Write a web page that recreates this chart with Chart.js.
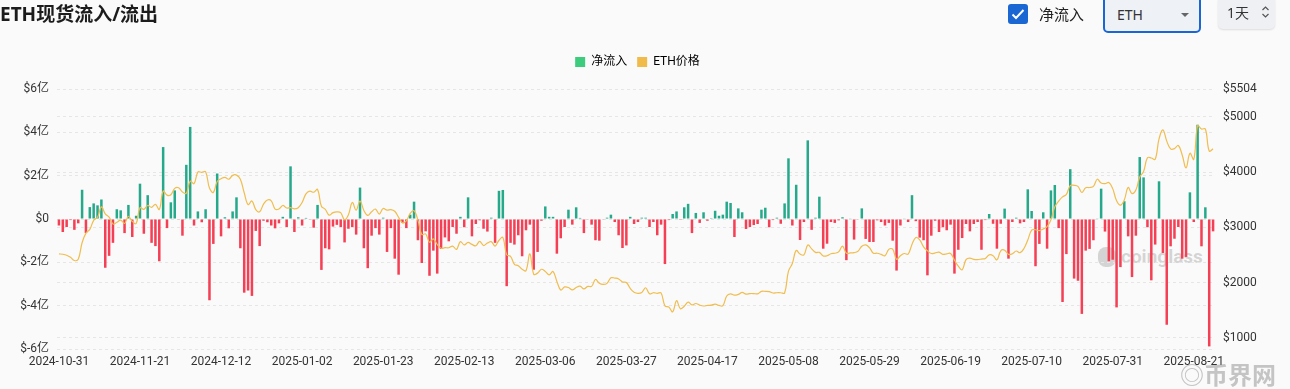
<!DOCTYPE html>
<html>
<head>
<meta charset="utf-8">
<script src="https://cdn.jsdelivr.net/npm/chart.js@4.4.1/dist/chart.umd.min.js"></script>
<style>
    html, body { margin: 0; padding: 0; background: #fafafa; }
    body { width: 1290px; height: 389px; position: relative; overflow: hidden; font-family: "Noto Sans", "Noto Sans CJK SC", sans-serif; }
    .title { position: absolute; left: 0; top: 1px; font-size: 19px; font-weight: 700; color: #1c1c1c; line-height: 26px; z-index: 3; }
    .chk { position: absolute; left: 1008px; top: 4px; width: 20px; height: 20px; border-radius: 3px; background: #1a66d2; z-index: 3; }
    .chk-label { position: absolute; left: 1039px; top: 2px; font-size: 15px; color: #222; line-height: 24px; z-index: 3; }
    .select { position: absolute; left: 1103px; top: -6px; width: 94px; height: 35px; border: 2px solid #1a66d2; border-radius: 5px; background: #eef1f6; z-index: 3; }
    .select span { position: absolute; left: 12px; top: 8px; font-size: 14px; color: #333; line-height: 22px; }
    .select i { position: absolute; left: 76px; top: 17px; width: 0; height: 0; border-left: 4px solid transparent; border-right: 4px solid transparent; border-top: 4px solid #666; }
    .period { position: absolute; left: 1218px; top: -4px; width: 57px; height: 33px; border-radius: 5px; background: #eef0f3; box-shadow: 0 1px 2px rgba(0,0,0,0.12); z-index: 3; }
    .period span { position: absolute; left: 9px; top: 6px; font-size: 14px; color: #333; line-height: 22px; }
    .period svg { position: absolute; left: 43px; top: 9px; }
    .wm { position: absolute; left: 1098px; top: 245px; color: rgba(140,140,140,0.35); font: 700 19px Roboto, sans-serif; z-index: 0; }
    .wm b { display: inline-block; width: 18px; height: 20px; border-radius: 8px; background: rgba(140,140,140,0.35); vertical-align: -4px; margin-right: 5px; }
    .wm2 { position: absolute; left: 1180px; top: 359px; color: rgba(130,130,130,0.45); font: 700 24px "Noto Sans CJK SC", sans-serif; line-height: 30px; z-index: 3; }
    canvas { position: absolute; left: 0; top: 0; z-index: 1; }
</style>
</head>
<body>
<div class="title">ETH现货流入/流出</div>
<div class="chk"><svg width="20" height="20" viewBox="0 0 20 20"><path d="M4.5 10.5l3.5 3.5 7.5-8" fill="none" stroke="#fff" stroke-width="2"/></svg></div>
<div class="chk-label">净流入</div>
<div class="select"><span>ETH</span><i></i></div>
<div class="period"><span>1天</span><svg width="9" height="14" viewBox="0 0 9 14"><path d="M1.5 5l3-3 3 3M1.5 9l3 3 3-3" fill="none" stroke="#555" stroke-width="1.2"/></svg></div>
<div class="wm"><b></b>coinglass</div>
<div class="wm2">◎币界网</div>
<canvas id="flowChart" width="1290" height="389"></canvas>
<script>
// 每日净流入 (亿美元), 2024-10-31 起
const netFlow = [
    -0.3, -0.6, -0.37, -0.05, -0.5, -0.2, 1.35, -0.65, 0.55, 0.72,
    0.63, 0.9, -2.25, -1.7, -1.1, 0.45, 0.4, -0.65, 0.65, -0.83,
    0.15, 1.63, -0.68, 1.1, -1.1, -1.25, -1.95, 3.32, -0.42, 0.77,
    1.32, -0.03, -0.77, 2.5, 4.25, -0.3, 0.35, -0.15, 0.45, -3.75,
    -1.15, 2.1, -0.8, 0.08, -0.43, 0.35, 1.0, -1.35, -3.4, -3.3,
    -3.55, -0.55, -1.25, -0.08, -0.15, -0.3, -0.43, -0.2, 0.1, -0.37,
    2.43, -0.6, 0.08, -0.3, 0.05, -0.03, -0.4, 0.65, -2.35, -1.35,
    -1.4, -0.35, -0.27, -0.37, -1.08, -0.45, -0.37, -0.72, 1.45, -1.35,
    -2.27, -0.77, -0.42, -0.72, 0.06, -1.52, -0.42, -1.83, -2.57, -0.18,
    -0.42, 0.2, 0.8, -0.98, -2.03, -0.57, -2.62, -1.46, -2.52, -1.38,
    -0.85, -1.03, -0.37, -0.68, 0.1, -0.38, 1.0, -0.8, -0.23, -0.06,
    -0.45, -0.58, 0.06, -1.1, 1.3, 1.34, -3.1, -1.1, -1.18, -0.75,
    -1.72, -0.52, -0.26, -2.34, -1.52, -0.08, 0.58, 0.1, 0.1, -1.6,
    -0.89, -0.37, 0.43, -0.26, 0.54, 0.05, -0.65, -0.03, -0.26, -0.98,
    -1.0, -0.03, 0.06, 0.2, -0.14, -0.75, -1.34, -1.22, 0.1, -0.23,
    -0.14, 0.06, 0.06, -0.37, -0.14, -0.75, -0.26, -2.08, -0.05, 0.23,
    0.35, -0.04, 0.54, 0.7, -0.65, 0.28, -0.18, 0.31, -0.08, 0.04,
    0.38, 0.15, 0.2, 0.8, 0.74, -0.83, 0.49, 0.31, -0.46, -0.37,
    -0.28, -0.23, 0.43, 0.52, -0.38, -0.05, 0.06, -0.22, 0.72, 2.8,
    -0.3, 1.58, -0.97, -0.14, 3.63, -0.5, 0.06, 1.03, -1.37, -1.14,
    -0.14, -0.18, -0.06, 0.08, -1.9, 0.03, -0.95, -0.03, 0.49, -0.92,
    -1.06, -1.06, -0.06, -0.14, -0.3, -0.18, -1.0, -2.38, -0.3, 0.03,
    -0.14, 1.1, -0.1, -0.86, -0.98, -2.6, -0.77, -0.08, -0.6, -0.38,
    -0.52, -0.26, -2.52, -1.42, -0.88, -0.23, -0.57, -0.23, -0.14, -1.42,
    -0.05, 0.23, -0.22, -1.37, -0.22, 0.48, -1.83, -0.14, 0.06, -0.2,
    -0.14, 1.37, 0.37, -2.18, -1.15, 0.31, -1.37, 1.32, 1.57, -0.42,
    -3.83, -1.62, 2.3, -2.75, -2.85, -4.38, -1.46, -1.38, -0.98, 0.03,
    1.4, -0.58, -1.95, -1.88, -4.08, -2.22, 0.82, -0.8, -2.68, -0.77,
    2.86, 1.92, -0.38, -2.83, -1.18, 1.74, -1.57, -4.88, -1.26, -0.91,
    -0.37, -1.83, -1.75, 1.23, -0.14, 4.35, -1.26, 0.54, -5.88, -0.57
];

// ETH 价格 (美元)
const ethPrice = [
    2518,
    2512, 2494, 2456, 2398, 2420, 2720, 2895, 2962, 3126, 3182,
    3370, 3244, 3185, 3058, 3090, 3130, 3070, 3200, 3105, 3070,
    3355, 3325, 3395, 3360, 3415, 3323, 3655, 3583, 3590, 3705,
    3715, 3640, 3615, 3835, 3790, 4000, 3995, 4005, 3710, 3630,
    3830, 3880, 3905, 3870, 3940, 3945, 3870, 3625, 3410, 3475,
    3320, 3280, 3420, 3495, 3480, 3330, 3330, 3395, 3350, 3355, 3335,
    3355, 3450, 3605, 3655, 3635, 3685, 3380, 3325, 3220, 3265,
    3280, 3265, 3135, 3225, 3450, 3310, 3475, 3305, 3215, 3280,
    3330, 3240, 3340, 3310, 3320, 3290, 3180, 3080, 3115, 3250, 3300,
    3130, 2870, 2880, 2730, 2790, 2690, 2620, 2630, 2630, 2660,
    2600, 2740, 2680, 2725, 2690, 2665, 2745, 2670, 2715, 2740,
    2660, 2765, 2815, 2500, 2475, 2330, 2305, 2240,
    2215, 2520, 2150, 2170, 2240, 2200, 2140, 2200, 2020, 1865,
    1920, 1910, 1865, 1910, 1935, 1885, 1930, 1930, 2055, 1985,
    1965, 1985, 2085, 2080, 2065, 2010, 2000, 1895, 1825, 1805, 1820,
    1905, 1795, 1815, 1805, 1810, 1575, 1555, 1470, 1670, 1525,
    1570, 1645, 1595, 1620, 1590, 1575, 1585, 1590, 1610, 1585,
    1580, 1755, 1795, 1770, 1785, 1820, 1790, 1800, 1800, 1795,
    1840, 1840, 1835, 1810, 1815, 1815, 1810, 2205, 2345, 2580,
    2515, 2500, 2680, 2610, 2545, 2545, 2480, 2485, 2520, 2530,
    2555, 2660, 2530, 2535, 2540, 2565, 2655, 2680, 2630, 2530, 2530,
    2510, 2485, 2600, 2605, 2420, 2485, 2525, 2515, 2690, 2815,
    2770, 2645, 2575, 2525, 2535, 2550, 2510, 2520, 2525, 2405,
    2295, 2230, 2415, 2440, 2420, 2415, 2425, 2435, 2500, 2485,
    2410, 2575, 2585, 2510, 2520, 2570, 2540, 2615, 2770, 2950,
    2955, 2940, 2970, 3010, 3135, 3370, 3475, 3550, 3595, 3755,
    3760, 3740, 3630, 3715, 3720, 3740, 3870, 3800, 3790, 3810, 3700,
    3480, 3400, 3495, 3720, 3610, 3675, 3910, 4010, 4260, 4255,
    4230, 4600, 4765, 4560, 4420, 4425, 4480, 4310, 4075, 4340,
    4230, 4840, 4780, 4780, 4380, 4420
];

const tickDates = [
    '2024-10-31', '2024-11-21', '2024-12-12', '2025-01-02', '2025-01-23',
    '2025-02-13', '2025-03-06', '2025-03-27', '2025-04-17', '2025-05-08',
    '2025-05-29', '2025-06-19', '2025-07-10', '2025-07-31', '2025-08-21'
];
const flowTicks = [-6, -4, -2, 0, 2, 4, 6];
const priceTicks = [1000, 2000, 3000, 4000, 5000, 5504];

const GREEN = '#26a98b';
const RED = '#f43f54';
const YELLOW = '#f0bd4f';

// 日期类目: 从 2024-10-31 起逐日
const dates = netFlow.map((_, i) => new Date(Date.UTC(2024, 9, 31 + i)).toISOString().slice(0, 10));

Chart.defaults.font.family = 'Roboto, "Noto Sans CJK SC", sans-serif';

// 图例与绘图区之间留出空隙
const legendGap = {
    id: 'legendGap',
    afterInit(chart) {
        const fit = chart.legend.fit;
        chart.legend.fit = function () {
            fit.call(this);
            this.height += 11;
        };
    }
};

const ctx = document.getElementById('flowChart').getContext('2d');
window.flowChart = new Chart(ctx, {
    data: {
        labels: dates,
        datasets: [
            {
                type: 'bar',
                label: '净流入',
                data: netFlow,
                yAxisID: 'y',
                order: 2,
                backgroundColor: c => (c.raw >= 0 ? GREEN : RED),
                barPercentage: 0.65,
                categoryPercentage: 1
            },
            {
                type: 'line',
                label: 'ETH价格',
                data: ethPrice,
                yAxisID: 'y1',
                order: 1,
                borderColor: YELLOW,
                borderWidth: 1.2,
                pointRadius: 0,
                tension: 0.4,
                fill: false
            }
        ]
    },
    options: {
        responsive: false,
        animation: false,
        layout: { padding: { top: 46, right: 15, left: 0, bottom: 0 } },
        plugins: {
            legend: {
                labels: {
                    boxWidth: 10,
                    boxHeight: 10,
                    padding: 10,
                    color: '#555',
                    font: { size: 12 },
                    generateLabels: () => [
                        { text: '净流入', fillStyle: '#3dcc7e', strokeStyle: '#3dcc7e', lineWidth: 0, datasetIndex: 0 },
                        { text: 'ETH价格', fillStyle: '#f0bb4a', strokeStyle: '#f0bb4a', lineWidth: 0, datasetIndex: 1 }
                    ]
                }
            },
            tooltip: { enabled: false }
        },
        scales: {
            x: {
                grid: { display: false },
                border: { display: false },
                ticks: {
                    autoSkip: false,
                    maxRotation: 0,
                    padding: -2,
                    color: '#333',
                    font: { size: 12 },
                    callback: (v, i) => (tickDates.includes(dates[i]) ? dates[i] : null)
                },
                afterFit: s => { s.height = 40; }
            },
            y: {
                position: 'left',
                min: -6,
                max: 6,
                grid: { color: '#e6e6e6', drawTicks: false },
                border: { display: false, dash: [3, 3] },
                ticks: {
                    stepSize: 2,
                    padding: 8,
                    color: '#333',
                    font: { size: 12 },
                    callback: v => (v === 0 ? '$0' : '$' + v + '亿')
                },
                afterBuildTicks: s => { s.ticks = flowTicks.map(v => ({ value: v })); },
                afterFit: s => { s.width = 57; }
            },
            y1: {
                position: 'right',
                min: 796,
                max: 5504,
                grid: { color: '#e6e6e6', drawTicks: false },
                border: { display: false, dash: [3, 3] },
                ticks: {
                    padding: 8,
                    color: '#333',
                    font: { size: 12 },
                    callback: v => '$' + v
                },
                afterBuildTicks: s => { s.ticks = priceTicks.map(v => ({ value: v })); },
                afterFit: s => { s.width = 60; }
            }
        }
    },
    plugins: [legendGap]
});
</script>
</body>
</html>
